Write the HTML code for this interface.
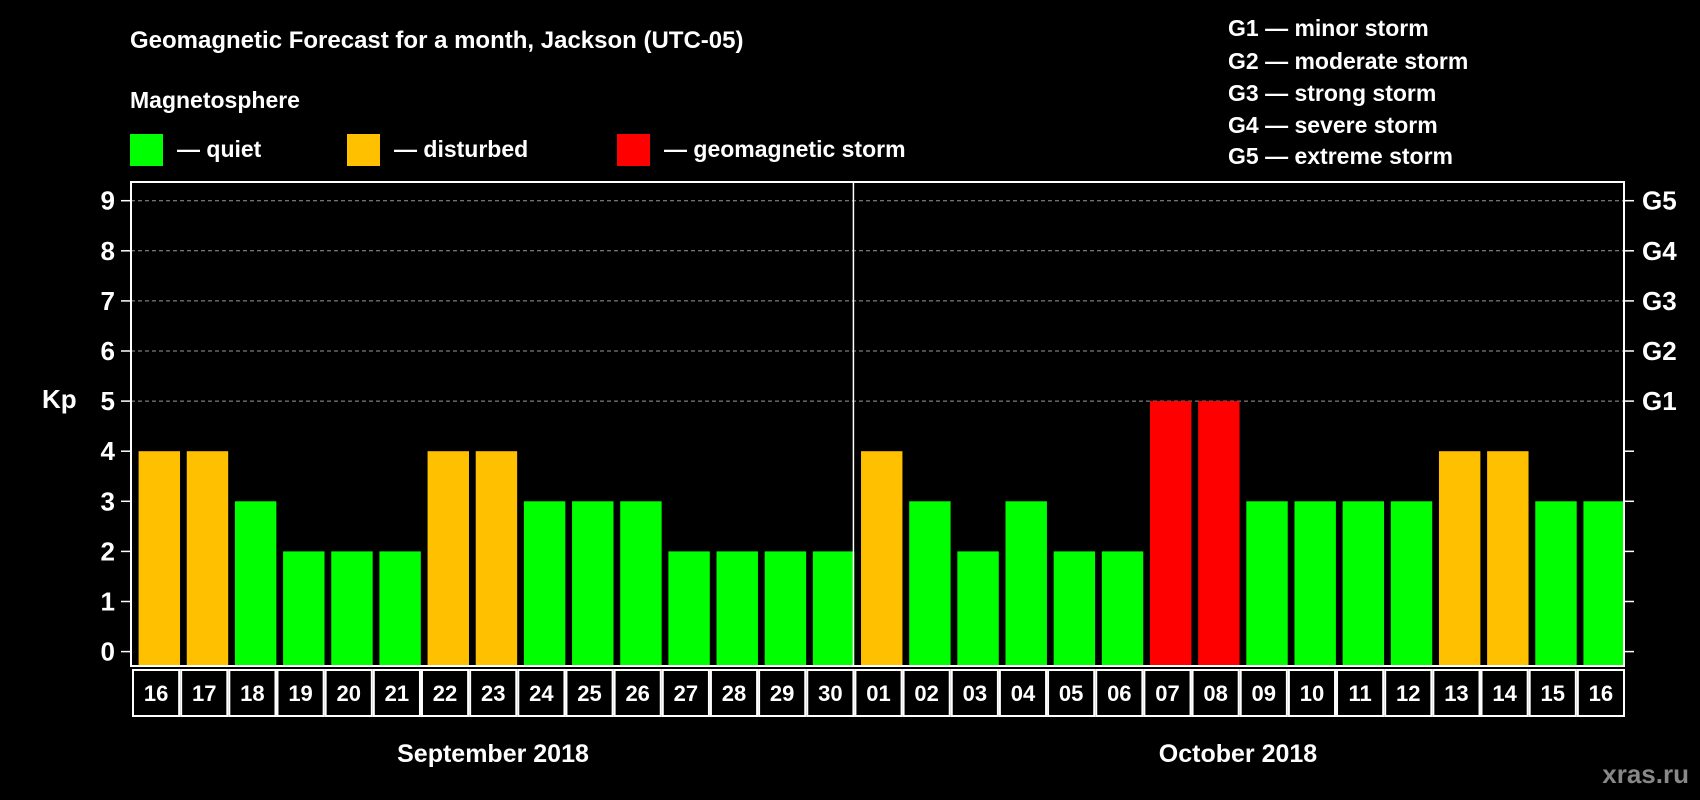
<!DOCTYPE html>
<html><head><meta charset="utf-8"><style>
html,body{margin:0;padding:0;background:#000;}
svg{display:block;font-family:"Liberation Sans",Arial,sans-serif;font-weight:bold;}
</style></head><body>
<svg id="chart" width="1700" height="800" viewBox="0 0 1700 800" xmlns="http://www.w3.org/2000/svg">
<rect width="1700" height="800" fill="#000"/>
<text x="130" y="48" fill="#fff" font-size="24">Geomagnetic Forecast for a month, Jackson (UTC-05)</text>
<text x="130" y="108" fill="#fff" font-size="23">Magnetosphere</text>
<g><rect x="130" y="134" width="33" height="32" fill="#00ff00"/><text x="177" y="157" fill="#fff" font-size="23">— quiet</text></g>
<g><rect x="347" y="134" width="33" height="32" fill="#ffc000"/><text x="394" y="157" fill="#fff" font-size="23">— disturbed</text></g>
<g><rect x="617" y="134" width="33" height="32" fill="#ff0000"/><text x="664" y="157" fill="#fff" font-size="23">— geomagnetic storm</text></g>
<g fill="#fff" font-size="23">
<text x="1228" y="36">G1 — minor storm</text>
<text x="1228" y="69">G2 — moderate storm</text>
<text x="1228" y="101">G3 — strong storm</text>
<text x="1228" y="133">G4 — severe storm</text>
<text x="1228" y="164">G5 — extreme storm</text>
</g>
<text x="42" y="408" fill="#fff" font-size="26">Kp</text>
<g id="plot"></g>
<text x="493" y="762" fill="#fff" font-size="25" text-anchor="middle">September 2018</text>
<text x="1238" y="762" fill="#fff" font-size="25" text-anchor="middle">October 2018</text>
<text x="1689" y="783" fill="#888" font-size="26" text-anchor="end">xras.ru</text>
</svg>
<script>
const days = ["16","17","18","19","20","21","22","23","24","25","26","27","28","29","30","01","02","03","04","05","06","07","08","09","10","11","12","13","14","15","16"];
const kp = [4,4,3,2,2,2,4,4,3,3,3,2,2,2,2,4,3,2,3,2,2,5,5,3,3,3,3,4,4,3,3];
const yTicks = [0,1,2,3,4,5,6,7,8,9];
const gLabels = ["G1","G2","G3","G4","G5"];
const gValues = [5,6,7,8,9];

const NS="http://www.w3.org/2000/svg";
const g=document.getElementById('plot');
const L=131,R=1624,T=182,B=666;
const slot=(R-L)/days.length;
const y=v=>651.6-v*50.1;
const x=i=>L+i*slot;
function mk(t,a){const e=document.createElementNS(NS,t);for(const k in a)e.setAttribute(k,a[k]);g.appendChild(e);return e;}
// grid
gValues.forEach(v=>{
  const l=mk('line',{x1:L,x2:R,y1:y(v),y2:y(v),stroke:'#999','stroke-dasharray':'4,3','stroke-width':1});
  
  
});
// bars
kp.forEach((v,i)=>{
  const c=v>=5?'#ff0000':(v>=4?'#ffc000':'#00ff00');
  const r=mk('rect',{x:x(i)+7.6,y:y(v),width:slot*0.86,height:B-y(v),fill:c});
  
  
  const bx=mk('rect',{x:x(i)+2,y:670,width:slot-2,height:46,fill:'none',stroke:'#fff','stroke-width':2});
  
  
  const t=mk('text',{x:x(i)+slot/2+1,y:701,fill:'#fff','font-size':22,'text-anchor':'middle'});
  t.textContent=days[i];
  
  
});
// frame
const f=mk('rect',{x:L,y:T,width:R-L,height:B-T,fill:'none',stroke:'#fff','stroke-width':2});


const dv=mk('line',{x1:x(15),x2:x(15),y1:T,y2:B,stroke:'#fff','stroke-width':1.5});


yTicks.forEach(v=>{
  mk('line',{x1:L-10,x2:L,y1:y(v),y2:y(v),stroke:'#fff','stroke-width':1.5});
  mk('line',{x1:R,x2:R+10,y1:y(v),y2:y(v),stroke:'#fff','stroke-width':1.5});
  const t=mk('text',{x:115,y:y(v)+9,fill:'#fff','font-size':26,'text-anchor':'end'});
  t.textContent=v;
  
  
});
gLabels.forEach((s,i)=>{
  const t=mk('text',{x:1642,y:y(gValues[i])+9,fill:'#fff','font-size':26});
  t.textContent=s;
  
  
});
</script>
</body></html>
